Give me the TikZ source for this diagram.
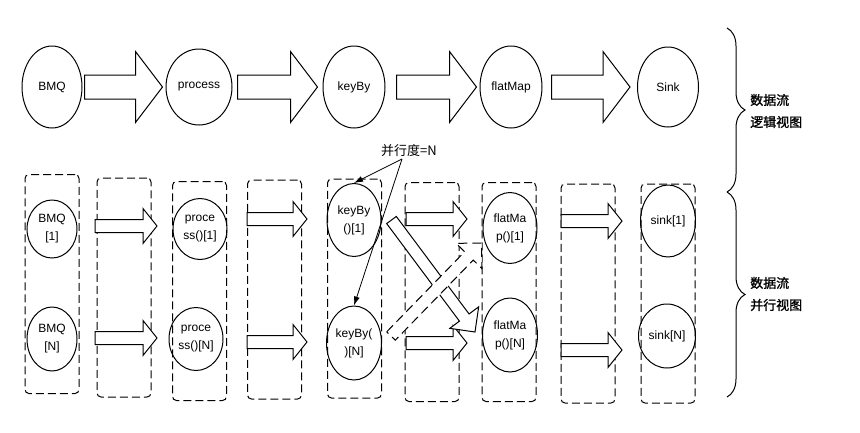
\documentclass[tikz,border=0pt]{standalone}
\usepackage{fontspec}
\usepackage{tikz}
\setmainfont{Liberation Sans}
\newfontfamily\cjk{Noto Sans CJK SC}
\newfontfamily\cjkheavy[FakeBold=1.2]{Noto Sans CJK SC}
\usetikzlibrary{shapes.geometric,calc,arrows.meta,decorations.pathreplacing}
\tikzstyle{op}=[ellipse, draw=black, line width=1pt, inner sep=0pt, align=center, font=\fontsize{12}{18}\selectfont]
\tikzstyle{lane}=[rectangle, draw=black, line width=1pt, dash pattern=on 8pt off 4pt, rounded corners=4pt, minimum width=54pt, minimum height=219pt]
\tikzstyle{flow}=[draw=black, fill=white, line width=1pt]
\tikzstyle{note}=[inner sep=0pt, align=left, font=\cjk\fontsize{13}{22}\selectfont]
\tikzstyle{view}=[note, anchor=west, font=\cjkheavy\fontsize{13}{22}\selectfont]
\tikzstyle{hint}=[draw=black, line width=0.8pt, -{Latex[length=9pt,width=6pt]}]

% block arrow: [style]{from}{to}{shaft half}{head half}{head length}
\newcommand{\blockarrow}[6][]{%
  \coordinate (hb) at ($(#3)!#6!(#2)$);
  \path[flow,#1] ($(#2)!#4!90:(#3)$) -- ($(hb)!#4!90:(#3)$) -- ($(hb)!#5!90:(#3)$) -- (#3)
    -- ($(hb)!#5!-90:(#3)$) -- ($(hb)!#4!-90:(#3)$) -- ($(#2)!#4!-90:(#3)$) -- cycle;}

\begin{document}
\begin{tikzpicture}[x=1pt, y=-1pt]
	\useasboundingbox (0,0) rectangle (860,432);
	% logical view
	\node[op, minimum width=60pt, minimum height=82pt] (bmq) at (52,87) {BMQ};
	\node[op, minimum width=66pt, minimum height=76pt] (proc) at (199,87) {process};
	\node[op, minimum width=62pt, minimum height=82pt] (key) at (354,87) {keyBy};
	\node[op, minimum width=62pt, minimum height=82pt] (flat) at (511,87) {flatMap};
	\node[op, minimum width=61pt, minimum height=80pt] (sink) at (668,87) {Sink};
	\coordinate (a1) at ([xshift=2pt]bmq.east);
	\coordinate (a2) at ([xshift=-3pt]proc.west);
	\coordinate (b1) at ([xshift=5pt]proc.east);
	\coordinate (b2) at ([xshift=-5pt]key.west);
	\coordinate (c1) at ([xshift=11pt]key.east);
	\coordinate (c2) at ([xshift=-3pt]flat.west);
	\coordinate (d1) at ([xshift=9pt]flat.east);
	\coordinate (d2) at ([xshift=-7pt]sink.west);
	\blockarrow{a1}{a2}{12pt}{35.5pt}{27pt}
	\blockarrow{b1}{b2}{12pt}{35.5pt}{27pt}
	\blockarrow{c1}{c2}{12pt}{35.5pt}{27pt}
	\blockarrow{d1}{d2}{12pt}{35.5pt}{27pt}

	% parallel view
	\node[lane] (l1) at (52,284) {};
	\node[lane] (l2) at (124,287.5) {};
	\node[lane] (l3) at (199.5,291) {};
	\node[lane] (l4) at (274.5,289.5) {};
	\node[lane] (l5) at (354.5,288.5) {};
	\node[lane] (l6) at (432,292) {};
	\node[lane] (l7) at (509,292) {};
	\node[lane] (l8) at (588,293.5) {};
	\node[lane] (l9) at (668,293.5) {};

	\node[op, minimum width=50pt, minimum height=58pt] (bmq1) at (52,229) {BMQ\\{[1]}};
	\node[op, minimum width=50pt, minimum height=64pt] (bmqN) at (52,339) {BMQ\\{[N]}};
	\node[op, minimum width=54pt, minimum height=61pt] (proc1) at (200,229) {proce\\ss()[1]};
	\node[op, minimum width=54pt, minimum height=63pt] (procN) at (196,339) {proce\\ss()[N]};
	\node[op, minimum width=54pt, minimum height=73pt] (key1) at (354,220) {keyBy\\()[1]};
	\node[op, minimum width=55pt, minimum height=74pt] (keyN) at (354,343) {keyBy(\\)[N]};
	\node[op, minimum width=54pt, minimum height=71pt] (flat1) at (510,228) {flatMa\\p()[1]};
	\node[op, minimum width=55pt, minimum height=74pt] (flatN) at (510,335) {flatMa\\p()[N]};
	\node[op, minimum width=55pt, minimum height=72pt] (sink1) at (668,221) {sink[1]};
	\node[op, minimum width=57pt, minimum height=64pt] (sinkN) at (667,336) {sink[N]};

	\coordinate (p1s) at (95,226);  \coordinate (p1t) at (157,226);
	\coordinate (pNs) at (95,338);  \coordinate (pNt) at (157,338);
	\coordinate (q1s) at (247,219); \coordinate (q1t) at (307,219);
	\coordinate (qNs) at (247,342); \coordinate (qNt) at (307,342);
	\coordinate (k1s) at (406,219); \coordinate (k1t) at (467,219);
	\coordinate (kNs) at (406,343); \coordinate (kNt) at (467,343);
	\coordinate (f1s) at (561,221); \coordinate (f1t) at (622,221);
	\coordinate (fNs) at (561,350); \coordinate (fNt) at (622,350);
	\blockarrow{p1s}{p1t}{6.5pt}{17.5pt}{14pt}
	\blockarrow{pNs}{pNt}{6.5pt}{17.5pt}{14pt}
	\blockarrow{q1s}{q1t}{6.5pt}{17.5pt}{14pt}
	\blockarrow{qNs}{qNt}{6.5pt}{17.5pt}{14pt}
	\blockarrow{k1s}{k1t}{6.5pt}{17.5pt}{14pt}
	\blockarrow{kNs}{kNt}{6.5pt}{17.5pt}{14pt}
	\blockarrow{f1s}{f1t}{6.5pt}{17.5pt}{14pt}
	\blockarrow{fNs}{fNt}{6.5pt}{17.5pt}{14pt}

	% keyBy shuffle
	\coordinate (x1) at ([xshift=10pt]key1.east);
	\coordinate (x2) at ([xshift=-7pt,yshift=3pt]flatN.west);
	\coordinate (y1) at ([xshift=9pt,yshift=7pt]keyN.east);
	\coordinate (y2) at ([xshift=-1pt,yshift=-15pt]flat1.west);
	\blockarrow{x1}{x2}{6pt}{18pt}{18pt}
	\blockarrow[dash pattern=on 9pt off 5pt]{y1}{y2}{6pt}{18pt}{18pt}

	\node[note] (par) at (409,151) {并行度=N};
	\coordinate (pp) at (402,159);
	\draw[hint] (pp) -- (key1.north);
	\draw[hint] (pp) -- (keyN.north);

	% views
	\draw[line width=1pt, decorate, decoration={brace, amplitude=18pt}] (727,28) -- (727,192);
	\draw[line width=1pt, decorate, decoration={brace, amplitude=18pt}] (727,192) -- (727,397);
	\node[view] (logic) at (750,111) {数据流\\逻辑视图};
	\node[view] (para) at (750,294) {数据流\\并行视图};
\end{tikzpicture}
\end{document}
